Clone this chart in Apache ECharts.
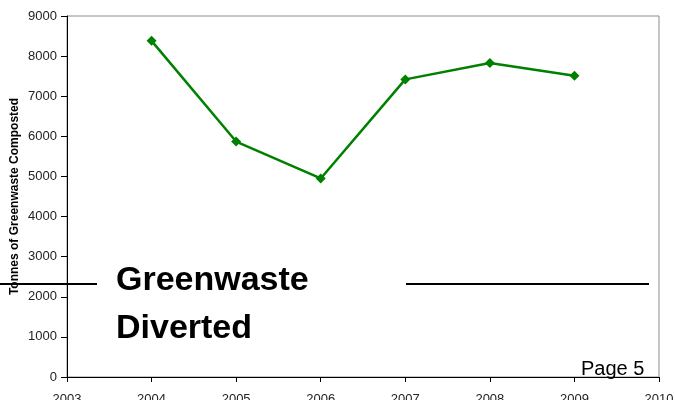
<!DOCTYPE html>
<html>
<head>
<meta charset="utf-8">
<script src="https://cdn.jsdelivr.net/npm/echarts@6/dist/echarts.min.js"></script>
<style>
  html, body { margin: 0; padding: 0; background: #fff; }
  #chart { width: 675px; height: 400px; }
</style>
</head>
<body>
<div id="chart"></div>
<script>
// years and tonnes composted
var years = [2004, 2005, 2006, 2007, 2008, 2009]
var tonnes = [8380, 5870, 4950, 7420, 7830, 7510]

var chart = echarts.init(document.getElementById('chart'))

var points = years.map(function(y, i) { return [y, tonnes[i]] })

var font = '"Liberation Sans", Arial, sans-serif'
var plain = function(v) { return String(v) }

var option = {
  animation: false,
  backgroundColor: '#fff',
  grid: {
    left: 67, right: 16, top: 16, bottom: 23,
    outerBoundsMode: 'none',
    containLabel: false,
    show: true,
    borderColor: '#8c8c8c',
    borderWidth: 1
  },
  xAxis: {
    type: 'value',
    min: 2003,
    max: 2010,
    interval: 1,
    splitLine: { show: false },
    axisLine: { lineStyle: { color: '#000', width: 1 } },
    axisTick: { show: true, length: 5, lineStyle: { color: '#000' } },
    axisLabel: { color: '#222', fontSize: 13, fontFamily: font, margin: 16, formatter: plain }
  },
  yAxis: {
    type: 'value',
    min: 0,
    max: 9000,
    interval: 1000,
    name: 'Tonnes of Greenwaste Composted',
    nameLocation: 'middle',
    nameGap: 46,
    nameMoveOverlap: false,
    nameTextStyle: { fontSize: 12, fontWeight: 'bold', fontFamily: font, color: '#000' },
    splitLine: { show: false },
    axisLine: { show: true, lineStyle: { color: '#000', width: 1 } },
    axisTick: { show: true, length: 6, lineStyle: { color: '#000' } },
    axisLabel: { color: '#222', fontSize: 13, fontFamily: font, margin: 10, formatter: plain }
  },
  series: [
    {
      type: 'line',
      data: points,
      symbol: 'diamond',
      symbolSize: 10,
      lineStyle: { color: '#008000', width: 2.5 },
      itemStyle: { color: '#008000' }
    }
  ],
  graphic: [
    { type: 'line', shape: { x1: 0, y1: 284, x2: 97, y2: 284 }, style: { stroke: '#000', lineWidth: 2 } },
    { type: 'line', shape: { x1: 406, y1: 284, x2: 649, y2: 284 }, style: { stroke: '#000', lineWidth: 2 } },
    { type: 'text', left: 116, top: 264, style: { text: 'Greenwaste', font: 'bold 34px ' + font, fill: '#000' } },
    { type: 'text', left: 116, top: 312, style: { text: 'Diverted', font: 'bold 34px ' + font, fill: '#000' } },
    { type: 'text', left: 581, top: 359, style: { text: 'Page 5', font: '20px ' + font, fill: '#000' } }
  ]
}

chart.setOption(option)
</script>
</body>
</html>
